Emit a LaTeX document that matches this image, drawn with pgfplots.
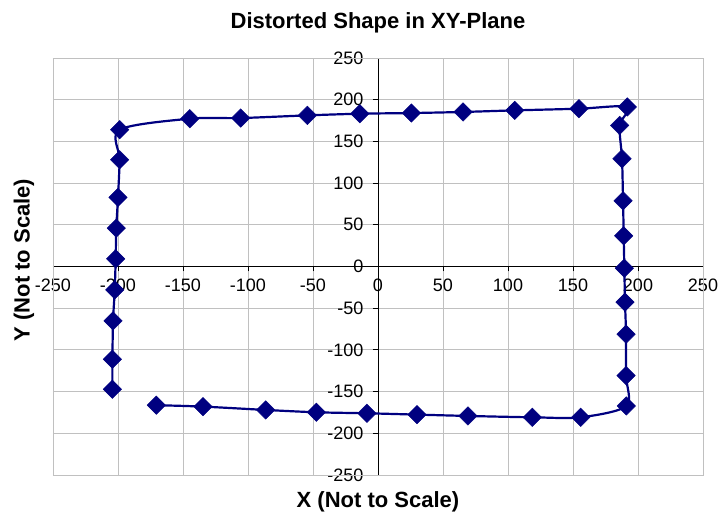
\documentclass[border=0pt]{standalone}
\usepackage{pgfplots}
\pgfplotsset{compat=1.18}
\usepackage{fontspec}
\setmainfont{Liberation Sans}
\definecolor{navyc}{RGB}{0,0,128}
\definecolor{gridc}{RGB}{192,192,192}
\begin{document}
\begin{tikzpicture}[x=1pt,y=1pt]
\path[use as bounding box] (-53,-39) rectangle (672,475);
\begin{axis}[
  at={(0,0)}, anchor=south west,
  width=650pt, height=417pt, scale only axis,
  xmin=-250, xmax=250, ymin=-250, ymax=250,
  axis lines=middle,
  axis line style={-, black, line width=0.8pt},
  xtick={-250,-200,...,250}, ytick={-250,-200,...,250},
  grid=major, grid style={gridc, line width=0.8pt},
  tick align=outside, major tick length=5pt,
  tick style={black, line width=0.8pt},
  hide obscured x ticks=false, hide obscured y ticks=false,
  /pgf/number format/assume math mode=true,
  tick label style={font=\fontsize{18}{20}\selectfont},
  xticklabel style={yshift=-4pt},
  yticklabel style={xshift=-6pt},
  clip=false,
]
\draw[gridc, line width=0.8pt] (rel axis cs:0,0) rectangle (rel axis cs:1,1);
\addplot[navyc, line width=2.2pt, smooth, tension=0.5, mark=square*, mark size=6.5pt,
  mark options={rotate=45, fill=navyc, draw=navyc, line width=0.5pt, solid}] coordinates {
(-170.5,-166.3) (-134.6,-168) (-86.4,-172) (-47.4,-174.8) (-8.5,-176) (30,-177.6)
(69.2,-179.2) (118.7,-180.8) (155.9,-180.8) (191,-167.2) (190.8,-130.8) (190.8,-81.2)
(190,-42.7) (189.5,-2) (189,36.8) (188.5,78.8) (187.7,129.2) (185.9,169.2)
(191.8,191.3) (154.6,189.2) (105.2,187.2) (65.4,185.3) (25.7,184) (-14,183.2)
(-54.3,181.2) (-105.6,178) (-144.8,177.2) (-198.7,164) (-198.7,128) (-200,82.8)
(-201.3,46) (-201.8,9.2) (-202.5,-28) (-203.8,-65.2) (-204.3,-111.2) (-204.3,-147.2)
};
\end{axis}
\node[font=\bfseries\fontsize{22}{26}\selectfont, anchor=base] at (325,446) {Distorted Shape in XY-Plane};
\node[font=\bfseries\fontsize{22}{26}\selectfont, anchor=base] at (325,-32) {X (Not to Scale)};
\node[font=\bfseries\fontsize{22}{26}\selectfont, rotate=90, anchor=center] at (-29,215) {Y (Not to Scale)};
\end{tikzpicture}
\end{document}
